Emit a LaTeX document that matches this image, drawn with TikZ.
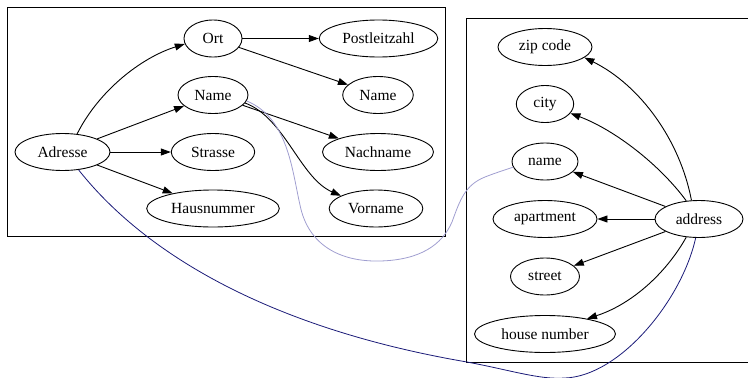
\documentclass[tikz,border=0pt]{standalone}
\usepackage{fontspec}
\setmainfont{Liberation Serif}
\usetikzlibrary{arrows.meta,shapes.geometric}
\definecolor{lightedge}{RGB}{160,158,208}
\definecolor{darkedge}{RGB}{26,26,120}
\tikzset{
  ell/.style={draw, ellipse, inner sep=0pt, minimum height=37pt, line width=0.9pt,
    font=\fontsize{15.5}{18}\selectfont},
  edge/.style={line width=0.9pt, -{Triangle[length=10pt,width=7pt]}},
  frame/.style={line width=0.9pt},
  link/.style={line width=0.8pt}
}
\begin{document}
\begin{tikzpicture}[x=1pt,y=1pt]
\useasboundingbox (0,0) rectangle (748,-378);
\clip (0,0) rectangle (748,-378);
% frames
\draw[frame] (7.3,-7.3) rectangle (445,-236.7);
\draw[frame] (466.7,-18.5) rectangle (760,-362.3);
% left cluster
\node[ell, minimum width=95pt]    (Adresse) at (62.5,-152) {Adresse};
\node[ell, minimum width=58pt]    (Ort)     at (213,-38.5) {Ort};
\node[ell, minimum width=118.6pt] (Plz)     at (378.5,-38.5) {Postleitzahl};
\node[ell, minimum width=70pt]    (NameL)   at (213,-95) {Name};
\node[ell, minimum width=70.6pt]  (NameR)   at (378,-95) {Name};
\node[ell, minimum width=83.4pt]  (Strasse) at (213,-152) {Strasse};
\node[ell, minimum width=111pt]   (Nachname) at (378,-152) {Nachname};
\node[ell, minimum width=132.6pt] (Haus)    at (213,-208.5) {Hausnummer};
\node[ell, minimum width=93.6pt]  (Vorname) at (376,-208.5) {Vorname};
% right cluster
\node[ell, minimum width=94pt]    (zip)     at (545,-47) {zip code};
\node[ell, minimum width=57.4pt]  (city)    at (545,-104) {city};
\node[ell, minimum width=66pt]    (name)    at (545,-161.5) {name};
\node[ell, minimum width=104pt]   (apt)     at (545,-219) {apartment};
\node[ell, minimum width=88pt]    (address) at (699,-219) {address};
\node[ell, minimum width=69pt]    (street)  at (545,-276.5) {street};
\node[ell, minimum width=141pt]   (hn)      at (545,-334) {house number};
% left edges
\draw[edge] (Adresse.51) .. controls (98,-92) and (140,-58) .. (Ort.191);
\draw[edge] (Adresse) -- (NameL);
\draw[edge] (Adresse) -- (Strasse);
\draw[edge] (Adresse) -- (Haus);
\draw[edge] (Ort) -- (Plz);
\draw[edge] (Ort) -- (NameR);
\draw[edge] (NameL) -- (Nachname);
\draw[edge] (NameL.-14) .. controls (285,-118) and (300,-178) .. (Vorname.160);
% right edges
\draw[edge] (address.112) .. controls (680,-140) and (640,-85) .. (zip.-15);
\draw[edge] (address.125) .. controls (660,-165) and (615,-130) .. (city.-20);
\draw[edge] (address) -- (name);
\draw[edge] (address) -- (apt);
\draw[edge] (address) -- (street);
\draw[edge] (address.235) .. controls (665,-275) and (630,-305) .. (hn.20);
% cross links
\coordinate (l1) at (300,-205);
\coordinate (l2) at (380,-261);
\coordinate (l3) at (452,-222);
\coordinate (l4) at (485,-177);
\draw[link, lightedge] (NameL.-10) .. controls (288,-118) and (292,-170) .. (l1)
  .. controls (308,-245) and (340,-262) .. (l2)
  .. controls (420,-260) and (442,-245) .. (l3)
  .. controls (460,-200) and (465,-185) .. (l4)
  .. controls (495,-173) and (505,-170) .. (name.190);
\coordinate (d1) at (467,-362);
\coordinate (d2) at (565,-378);
\draw[link, darkedge] (Adresse.-48) .. controls (150,-260) and (280,-330) .. (d1)
  .. controls (510,-370) and (540,-380) .. (d2)
  .. controls (620,-376) and (682,-300) .. (address.-100);
\end{tikzpicture}
\end{document}
